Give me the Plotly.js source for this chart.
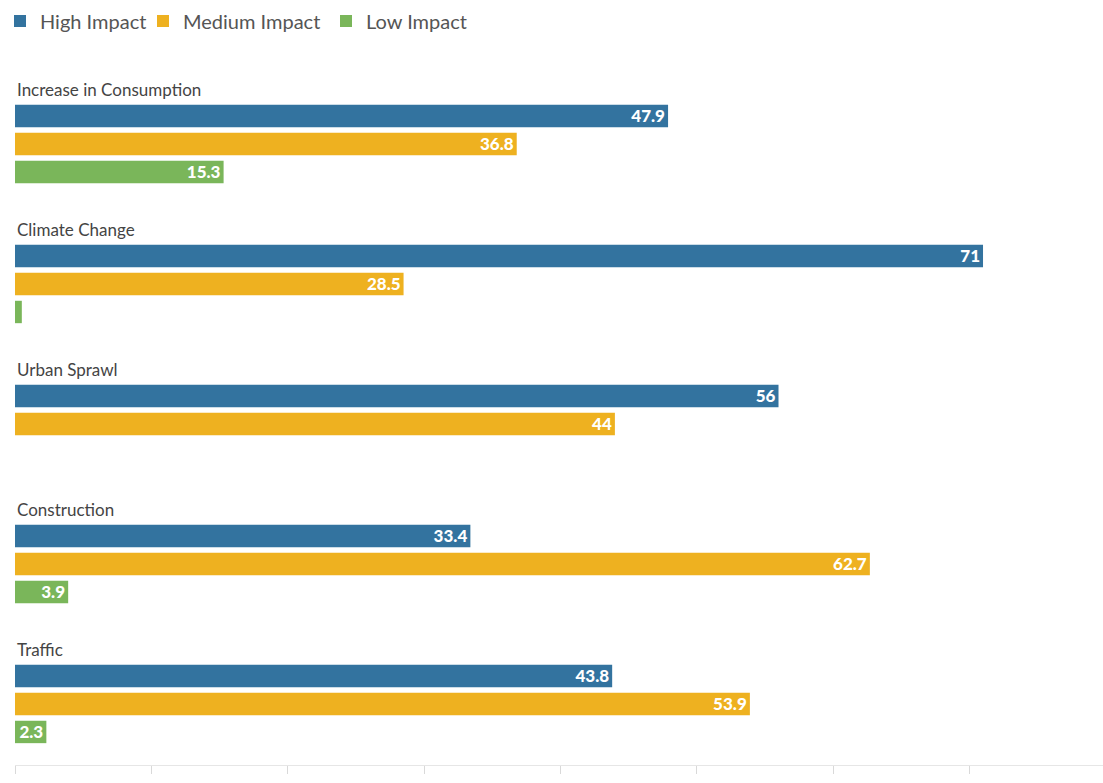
<!DOCTYPE html>
<html>
<head>
<meta charset="utf-8">
<script src="https://cdn.plot.ly/plotly-3.0.1.min.js"></script>
<style>html,body{margin:0;padding:0;background:#fff;}#chart{width:1103px;height:783px;}</style>
</head>
<body>
<div id="chart"></div>
<script>
const categories = ["Increase in Consumption", "Climate Change", "Urban Sprawl", "Construction", "Traffic"];
const seriesNames = ["High Impact", "Medium Impact", "Low Impact"];
const highImpact = [47.9, 71, 56, 33.4, 43.8];
const mediumImpact = [36.8, 28.5, 44, 62.7, 53.9];
const lowImpact = [15.3, 0.5, null, 3.9, 2.3];
const seriesColors = ["#33739f", "#eeb120", "#7ab65a"];

const allSeries = [highImpact, mediumImpact, lowImpact];
const GROUP = 5;
const legendIds = ["legend", "legend2", "legend3"];
const legendX = [0, 143, 326];

const traces = allSeries.map((vals, s) => ({
  type: "bar",
  orientation: "h",
  name: seriesNames[s],
  legend: legendIds[s],
  x: vals,
  y: categories.map((c, g) => g * GROUP + s),
  width: 0.8,
  marker: {color: seriesColors[s]},
  text: vals.map(v => (v == null || v < 1) ? "" : String(v)),
  textposition: "inside",
  insidetextanchor: "end",
  textangle: 0,
  constraintext: "none",
  textfont: {family: "Lato, sans-serif", size: 17, color: "#ffffff", weight: 900},
  hoverinfo: "x+name",
  cliponaxis: false
}));

const annotations = categories.map((c, g) => ({
  text: c,
  xref: "paper", x: 0, xanchor: "left",
  yref: "y", y: g * GROUP - 0.95, yanchor: "middle",
  showarrow: false,
  font: {family: "Lato, sans-serif", size: 17, color: "#444444"}
}));

const layout = {
  width: 1103, height: 783,
  margin: {l: 15, r: 0, t: 32, b: 18, autoexpand: false},
  paper_bgcolor: "#ffffff", plot_bgcolor: "#ffffff",
  barmode: "overlay",
  showlegend: true,
  xaxis: {
    range: [0, 79.8],
    dtick: 10, tick0: 0,
    showgrid: false, zeroline: false,
    showline: true, linecolor: "#e6e6e6", linewidth: 1,
    ticks: "outside", ticklen: 8, tickcolor: "#d9d9d9",
    showticklabels: false,
    fixedrange: true
  },
  yaxis: {
    range: [23.18, -3],
    showgrid: false, zeroline: false, showline: false,
    showticklabels: false, ticks: "",
    fixedrange: true
  },
  annotations: annotations
};

legendIds.forEach((id, s) => {
  layout[id] = {
    orientation: "h", xref: "container", x: legendX[s] / 1103, xanchor: "left",
    yref: "container", y: 1 - 21/783, yanchor: "middle",
    font: {family: "Lato, sans-serif", size: 20, color: "#555555"},
    itemclick: false, bgcolor: "rgba(0,0,0,0)"
  };
});

Plotly.newPlot("chart", traces, layout, {displayModeBar: false});
</script>
</body>
</html>
